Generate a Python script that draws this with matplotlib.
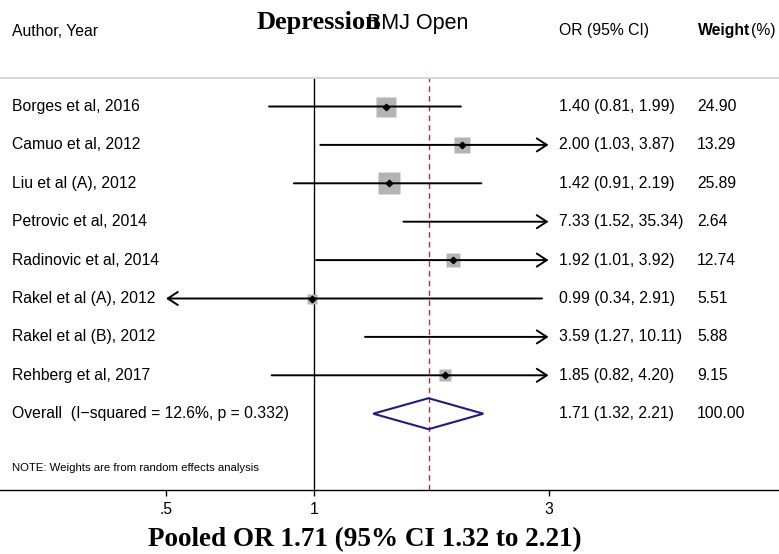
"""Forest plot: depression, pooled OR (random effects)."""

import numpy as np
import matplotlib
matplotlib.use("Agg")
import matplotlib.pyplot as plt
import matplotlib.transforms as mtransforms
from matplotlib.patches import Polygon
from matplotlib.ticker import NullLocator

plt.rcParams['font.family'] = ['Liberation Sans', 'DejaVu Sans']

# data
studies = ["Borges et al, 2016", "Camuo et al, 2012", "Liu et al (A), 2012",
           "Petrovic et al, 2014", "Radinovic et al, 2014", "Rakel et al (A), 2012",
           "Rakel et al (B), 2012", "Rehberg et al, 2017"]
or_est = [1.40, 2.00, 1.42, 7.33, 1.92, 0.99, 3.59, 1.85]
ci_lo = [0.81, 1.03, 0.91, 1.52, 1.01, 0.34, 1.27, 0.82]
ci_hi = [1.99, 3.87, 2.19, 35.34, 3.92, 2.91, 10.11, 4.20]
weights = [24.90, 13.29, 25.89, 2.64, 12.74, 5.51, 5.88, 9.15]
pooled_or, pooled_lo, pooled_hi = 1.71, 1.32, 2.21
overall_label = "Overall  (I\u2212squared = 12.6%, p = 0.332)"
tick_vals = [0.5, 1, 3]
tick_labels = [".5", "1", "3"]
clip_lo, clip_hi = 0.5, 3

W, H = 779, 554
FS = 11.3
fig = plt.figure(figsize=(W / 100, H / 100), dpi=100)
ax = fig.add_axes([0, 1 - 490 / H, 1, (490 - 78) / H])

px_per = 213.5          # pixels per ln unit
ax.set_xscale('log')
ax.set_xlim(np.exp(-314 / px_per), np.exp((W - 314) / px_per))
row0, step = 106.5, 38.4
ax.set_ylim((490 - row0) / step, (78 - row0) / step)

for s in ("left", "right"):
    ax.spines[s].set_visible(False)
ax.spines["top"].set_color("#d4d4d4")
ax.spines["top"].set_linewidth(1.3)
ax.spines["bottom"].set_linewidth(1.0)
ax.set_yticks([])
ax.set_xticks(tick_vals)
ax.set_xticklabels(tick_labels)
ax.xaxis.set_minor_locator(NullLocator())
ax.tick_params(axis='x', length=4, width=1, labelsize=FS, pad=5)

ax.axvline(1, color="black", lw=1, zorder=1)
ax.axvline(pooled_or, color="#a3343f", lw=1, dashes=(4, 3), zorder=1)

blend = mtransforms.blended_transform_factory(ax.transAxes, ax.transData)
head = "head_length=0.72,head_width=0.47"

for i, name in enumerate(studies):
    lo, hi, est = ci_lo[i], ci_hi[i], or_est[i]
    lo_c, hi_c = max(lo, clip_lo), min(hi, clip_hi)
    style = "-"
    if hi > clip_hi and lo < clip_lo:
        style = "<->," + head
    elif hi > clip_hi:
        style = "->," + head
    elif lo < clip_lo:
        style = "<-," + head
    ax.annotate("", xy=(hi_c, i), xytext=(lo_c, i),
                arrowprops=dict(arrowstyle=style, lw=1.4, color="black",
                                shrinkA=0, shrinkB=0), zorder=3)
    if clip_lo <= est <= clip_hi:
        side = 4.2 * np.sqrt(weights[i]) * 0.72
        ax.plot(est, i, marker="s", ms=side, color="#b4b4b4", mec="none", zorder=2)
        ax.plot(est, i, marker="D", ms=3.3, color="black", zorder=4)
    ax.text(12 / W, i, name, transform=blend, va="center", fontsize=FS)
    ax.text(559 / W, i, f"{est:.2f} ({lo:.2f}, {hi:.2f})", transform=blend,
            va="center", fontsize=FS)
    ax.text(697 / W, i, f"{weights[i]:.2f}", transform=blend, va="center", fontsize=FS)

# overall
yo = len(studies)
h = 15.5 / step
diamond = Polygon([(pooled_lo, yo), (pooled_or, yo - h), (pooled_hi, yo), (pooled_or, yo + h)],
                  closed=True, fill=False, edgecolor="#1c1c84", lw=1.5, zorder=3)
ax.add_patch(diamond)
ax.text(12 / W, yo, overall_label, transform=blend, va="center", fontsize=FS)
ax.text(559 / W, yo, f"{pooled_or:.2f} ({pooled_lo:.2f}, {pooled_hi:.2f})",
        transform=blend, va="center", fontsize=FS)
ax.text(697 / W, yo, "100.00", transform=blend, va="center", fontsize=FS)

ax.text(12 / W, (468 - row0) / step, "NOTE: Weights are from random effects analysis",
        transform=blend, va="center", fontsize=8.2)

# header
hy = 1 - 31 / H
fig.text(12 / W, hy, "Author, Year", va="center", fontsize=FS)
fig.text(559 / W, hy, "OR (95% CI)", va="center", fontsize=FS)
fig.text(698 / W, hy, "Weight", va="center", fontsize=FS, fontweight="bold")
fig.text(751 / W, hy, "(%)", va="center", fontsize=FS)

# title and watermark overlap in the original too
fig.text(318 / W, 1 - 22 / H, "Depression", ha="center", va="center",
         family="Liberation Serif", fontweight="bold", fontsize=19)
fig.text(418 / W, 1 - 24 / H, "BMJ Open", ha="center", va="center", fontsize=15.5)

fig.text(365 / W, 1 - 540 / H, f"Pooled OR {pooled_or:.2f} (95% CI {pooled_lo:.2f} to {pooled_hi:.2f})",
         ha="center", va="center", family="Liberation Serif", fontweight="bold", fontsize=19.5)

fig.savefig("out.png", dpi=100)
